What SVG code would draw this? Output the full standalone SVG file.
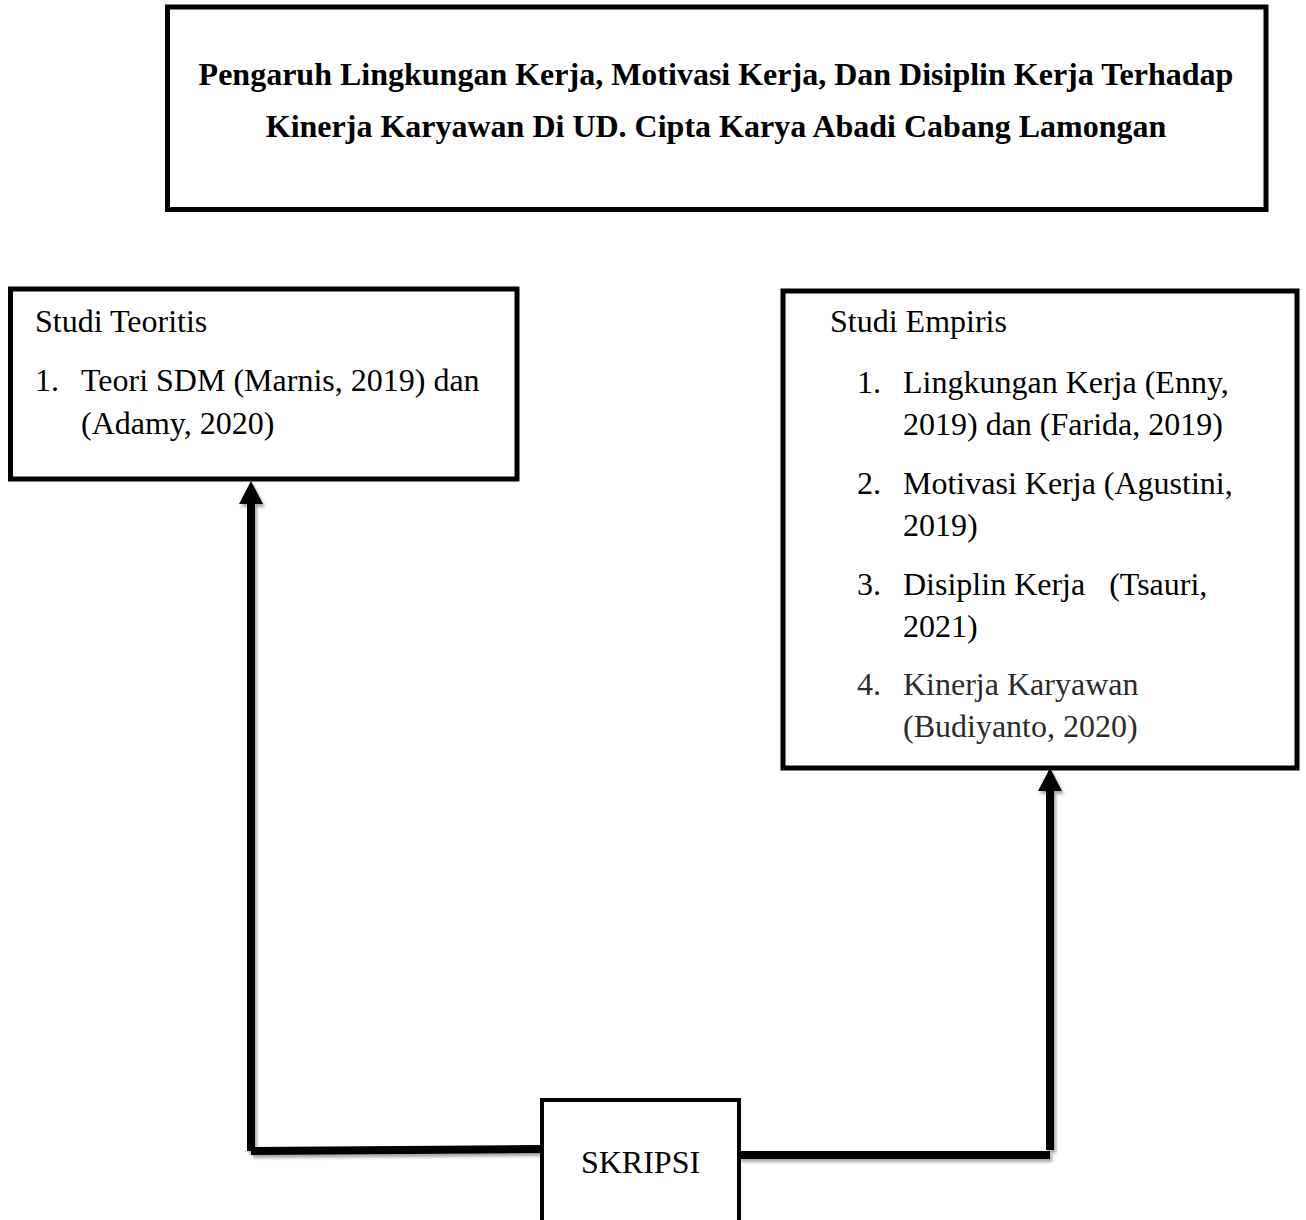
<svg xmlns="http://www.w3.org/2000/svg" width="1306" height="1220" viewBox="0 0 1306 1220">
  <style>
    .box { fill: #ffffff; stroke: #000000; stroke-width: 5; }
    .small { stroke-width: 4; }
    .t { font-family: "Liberation Serif", "Times New Roman", serif; font-size: 32px; fill: #000000; }
    .b { font-weight: bold; }
    .gray { fill: #2b2b2b; }
    .conn { stroke: #000000; stroke-width: 8; fill: none; }
    .head { fill: #000000; }
  </style>
  <defs>
    <filter id="shadow" x="-10%" y="-10%" width="130%" height="130%">
      <feDropShadow dx="2" dy="3" stdDeviation="1.5" flood-color="#000000" flood-opacity="0.35"/>
    </filter>
  </defs>
  <rect width="1306" height="1220" fill="#ffffff"/>

  <g id="connectors" filter="url(#shadow)">
    <line class="conn" x1="251" y1="500" x2="251" y2="1151"/>
    <line class="conn" x1="251" y1="1151" x2="543" y2="1149"/>
    <polygon class="head" points="251,481 239,504 263,504"/>
    <line class="conn" x1="1050" y1="787" x2="1050" y2="1150"/>
    <line class="conn" x1="739" y1="1155" x2="1050" y2="1155"/>
    <polygon class="head" points="1050,768 1038,791 1062,791"/>
  </g>

  <g id="title">
    <rect class="box" x="167.5" y="7" width="1098.5" height="202.5"/>
    <text class="t b" x="716" y="85" text-anchor="middle">Pengaruh Lingkungan Kerja, Motivasi Kerja, Dan Disiplin Kerja Terhadap</text>
    <text class="t b" x="716" y="137" text-anchor="middle">Kinerja Karyawan Di UD. Cipta Karya Abadi Cabang Lamongan</text>
  </g>

  <g id="studi-teoritis">
    <rect class="box" x="10.5" y="289" width="506.5" height="190"/>
    <text class="t" x="35" y="332">Studi Teoritis</text>
    <text class="t" x="35" y="391">1.</text>
    <text class="t" x="81" y="391">Teori SDM (Marnis, 2019) dan</text>
    <text class="t" x="81" y="434">(Adamy, 2020)</text>
  </g>

  <g id="studi-empiris">
    <rect class="box" x="783" y="291" width="514" height="477"/>
    <text class="t" x="830" y="332">Studi Empiris</text>
    <text class="t" x="857" y="393">1.</text>
    <text class="t" x="903" y="393">Lingkungan Kerja (Enny,</text>
    <text class="t" x="903" y="435">2019) dan (Farida, 2019)</text>
    <text class="t" x="857" y="494">2.</text>
    <text class="t" x="903" y="494">Motivasi Kerja (Agustini,</text>
    <text class="t" x="903" y="536">2019)</text>
    <text class="t" x="857" y="595">3.</text>
    <text class="t" x="903" y="595" xml:space="preserve">Disiplin Kerja   (Tsauri,</text>
    <text class="t" x="903" y="637">2021)</text>
    <text class="t gray" x="857" y="695">4.</text>
    <text class="t gray" x="903" y="695">Kinerja Karyawan</text>
    <text class="t gray" x="903" y="737">(Budiyanto, 2020)</text>
  </g>

  <g id="skripsi">
    <rect class="box small" x="542" y="1100" width="197" height="140"/>
    <text class="t" x="640.5" y="1173" text-anchor="middle">SKRIPSI</text>
  </g>
</svg>
